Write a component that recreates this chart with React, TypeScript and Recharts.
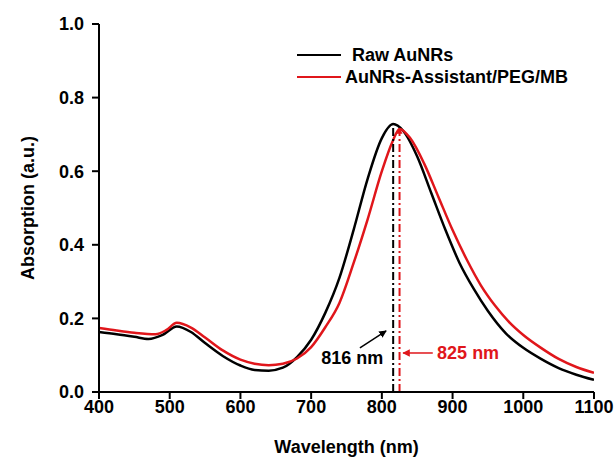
import React from 'react';
import {
  LineChart, Line, XAxis, YAxis, ReferenceLine, ReferenceDot, Legend,
} from 'recharts';

// ---- Data ----
const rawWavelengths = [400, 425, 450, 470, 490, 510, 530, 550, 575, 600, 620, 640, 660, 680, 700, 720, 740, 760, 780, 800, 816, 830, 850, 870, 890, 910, 930, 950, 975, 1000, 1025, 1050, 1075, 1100];
const rawAbsorption = [0.163, 0.157, 0.150, 0.144, 0.155, 0.178, 0.163, 0.133, 0.098, 0.072, 0.060, 0.058, 0.066, 0.095, 0.142, 0.215, 0.310, 0.440, 0.580, 0.690, 0.728, 0.710, 0.640, 0.540, 0.440, 0.350, 0.280, 0.220, 0.160, 0.120, 0.090, 0.065, 0.047, 0.033];

const pegWavelengths = [400, 425, 450, 480, 495, 510, 530, 550, 575, 600, 620, 640, 660, 680, 700, 720, 740, 760, 780, 800, 815, 825, 840, 860, 880, 900, 920, 940, 960, 980, 1000, 1025, 1050, 1075, 1100];
const pegAbsorption = [0.174, 0.167, 0.161, 0.157, 0.168, 0.188, 0.175, 0.148, 0.113, 0.088, 0.077, 0.073, 0.077, 0.091, 0.122, 0.176, 0.242, 0.350, 0.470, 0.600, 0.680, 0.715, 0.690, 0.620, 0.530, 0.440, 0.360, 0.290, 0.235, 0.190, 0.155, 0.120, 0.090, 0.068, 0.052];

const seriesNames = ['Raw AuNRs', 'AuNRs-Assistant/PEG/MB'];
const peakWavelengths = [816, 825];
const peakHeights = [0.727, 0.71];
const peakLabels = ['816 nm', '825 nm'];

const xMajorTicks = [400, 500, 600, 700, 800, 900, 1000, 1100];
const xMinorTicks = [450, 550, 650, 750, 850, 950, 1050];
const yMajorTicks = [0, 0.2, 0.4, 0.6, 0.8, 1.0];
const yMinorTicks = [0.1, 0.3, 0.5, 0.7, 0.9];

const rawData = rawWavelengths.map((wl, i) => ({ wl, abs: rawAbsorption[i] }));
const pegData = pegWavelengths.map((wl, i) => ({ wl, abs: pegAbsorption[i] }));

const BLACK = '#000000';
const RED = '#e0161b';
const FONT = '"Liberation Sans", Arial, sans-serif';

const tickStyle = { fontFamily: FONT, fontWeight: 700, fontSize: 18, fill: '#000' };

const LegendContent = () => (
  <div style={{ fontFamily: FONT, fontWeight: 700, fontSize: 18, color: '#000', lineHeight: '22px' }}>
    {seriesNames.map((n, i) => (
      <div key={n} style={{ display: 'flex', alignItems: 'center', height: 22 }}>
        <span style={{ display: 'inline-block', width: 44, height: 2.5, background: i === 0 ? BLACK : RED, marginRight: i === 0 ? 11 : 4 }} />
        <span>{n}</span>
      </div>
    ))}
  </div>
);

const TextShape = (color: string, text: string) => (props: any) => (
  <text x={props.cx} y={props.cy} fill={color} fontFamily={FONT} fontWeight={700} fontSize={18} textAnchor="middle" dominantBaseline="central">
    {text}
  </text>
);

export default function App() {
  return (
    <div style={{ position: 'absolute', left: 0, top: 0, width: 616, height: 459, background: '#fff' }}>
      <svg width={0} height={0} style={{ position: 'absolute' }}>
        <defs>
          <marker id="arrBlack" viewBox="0 0 10 10" refX="9" refY="5" markerWidth="5" markerHeight="5" orient="auto">
            <path d="M0,0 L10,5 L0,10 z" fill={BLACK} />
          </marker>
          <marker id="arrRed" viewBox="0 0 10 10" refX="9" refY="5" markerWidth="5" markerHeight="5" orient="auto">
            <path d="M0,0 L10,5 L0,10 z" fill={RED} />
          </marker>
          <marker id="arrRedSmall" viewBox="0 0 10 10" refX="5" refY="5" markerWidth="3" markerHeight="3" orient="auto">
            <path d="M0,0 L10,5 L0,10 z" fill={RED} />
          </marker>
        </defs>
      </svg>
      <LineChart width={616} height={459} margin={{ top: 24, right: 22, left: 0, bottom: 0 }}>
        <XAxis xAxisId="minor" dataKey="wl" type="number" domain={[400, 1100]} ticks={xMinorTicks}
          height={0} tick={false} tickSize={4} axisLine={false} tickLine={{ stroke: BLACK, strokeWidth: 2 }} allowDataOverflow />
        <XAxis xAxisId="main" dataKey="wl" type="number" domain={[400, 1100]} ticks={xMajorTicks}
          height={67} tick={tickStyle} tickSize={7} tickMargin={1}
          axisLine={{ stroke: BLACK, strokeWidth: 2 }} tickLine={{ stroke: BLACK, strokeWidth: 2 }}
          label={{ value: 'Wavelength (nm)', position: 'center', dy: 21, style: { fontFamily: FONT, fontWeight: 700, fontSize: 18, fill: '#000' } }}
          allowDataOverflow />
        <XAxis xAxisId="top" orientation="top" type="number" domain={[400, 1100]} height={0} tick={false} tickLine={false}
          axisLine={{ stroke: BLACK, strokeWidth: 2 }} />
        <YAxis yAxisId="minor" type="number" domain={[0, 1]} ticks={yMinorTicks} width={0} tick={false} tickSize={4}
          axisLine={false} tickLine={{ stroke: BLACK, strokeWidth: 2 }} />
        <YAxis yAxisId="main" type="number" domain={[0, 1]} ticks={yMajorTicks} width={99}
          tick={tickStyle} tickSize={7} tickMargin={8} tickFormatter={(v: number) => v.toFixed(1)}
          axisLine={{ stroke: BLACK, strokeWidth: 2 }} tickLine={{ stroke: BLACK, strokeWidth: 2 }}
          label={{ value: 'Absorption (a.u.)', angle: -90, position: 'center', dx: -22, style: { fontFamily: FONT, fontWeight: 700, fontSize: 18, fill: '#000', textAnchor: 'middle' } }} />
        <YAxis yAxisId="right" orientation="right" type="number" domain={[0, 1]} width={0} tick={false} tickLine={false}
          axisLine={{ stroke: BLACK, strokeWidth: 2 }} />

        <Legend layout="horizontal" verticalAlign="middle" align="center" content={<LegendContent />}
          wrapperStyle={{ position: 'absolute', left: 297, top: 44, width: 300, height: 50 }} />

        <Line xAxisId="main" yAxisId="main" data={rawData} dataKey="abs" name={seriesNames[0]} type="monotone"
          stroke={BLACK} strokeWidth={2.5} dot={false} isAnimationActive={false} />
        <Line xAxisId="main" yAxisId="main" data={pegData} dataKey="abs" name={seriesNames[1]} type="monotone"
          stroke={RED} strokeWidth={2.5} dot={false} isAnimationActive={false} />

        <ReferenceLine xAxisId="main" yAxisId="main" segment={[{ x: peakWavelengths[0], y: 0 }, { x: peakWavelengths[0], y: peakHeights[0] }]}
          stroke={BLACK} strokeWidth={2} strokeDasharray="8 3 2 3" ifOverflow="visible" />
        <ReferenceLine xAxisId="main" yAxisId="main" segment={[{ x: peakWavelengths[1], y: 0 }, { x: peakWavelengths[1], y: peakHeights[1] }]}
          stroke={RED} strokeWidth={2} strokeDasharray="8 3 2 3" markerEnd="url(#arrRedSmall)" ifOverflow="visible" />

        <ReferenceLine xAxisId="main" yAxisId="main" segment={[{ x: 769, y: 0.12 }, { x: 806, y: 0.166 }]}
          stroke={BLACK} strokeWidth={1.5} markerEnd="url(#arrBlack)" ifOverflow="visible" />
        <ReferenceLine xAxisId="main" yAxisId="main" segment={[{ x: 872, y: 0.106 }, { x: 830, y: 0.106 }]}
          stroke={RED} strokeWidth={1.5} markerEnd="url(#arrRed)" ifOverflow="visible" />

        <ReferenceDot xAxisId="main" yAxisId="main" x={758} y={0.092} r={0} ifOverflow="visible"
          shape={TextShape(BLACK, peakLabels[0])} />
        <ReferenceDot xAxisId="main" yAxisId="main" x={922} y={0.106} r={0} ifOverflow="visible"
          shape={TextShape(RED, peakLabels[1])} />
      </LineChart>
    </div>
  );
}
